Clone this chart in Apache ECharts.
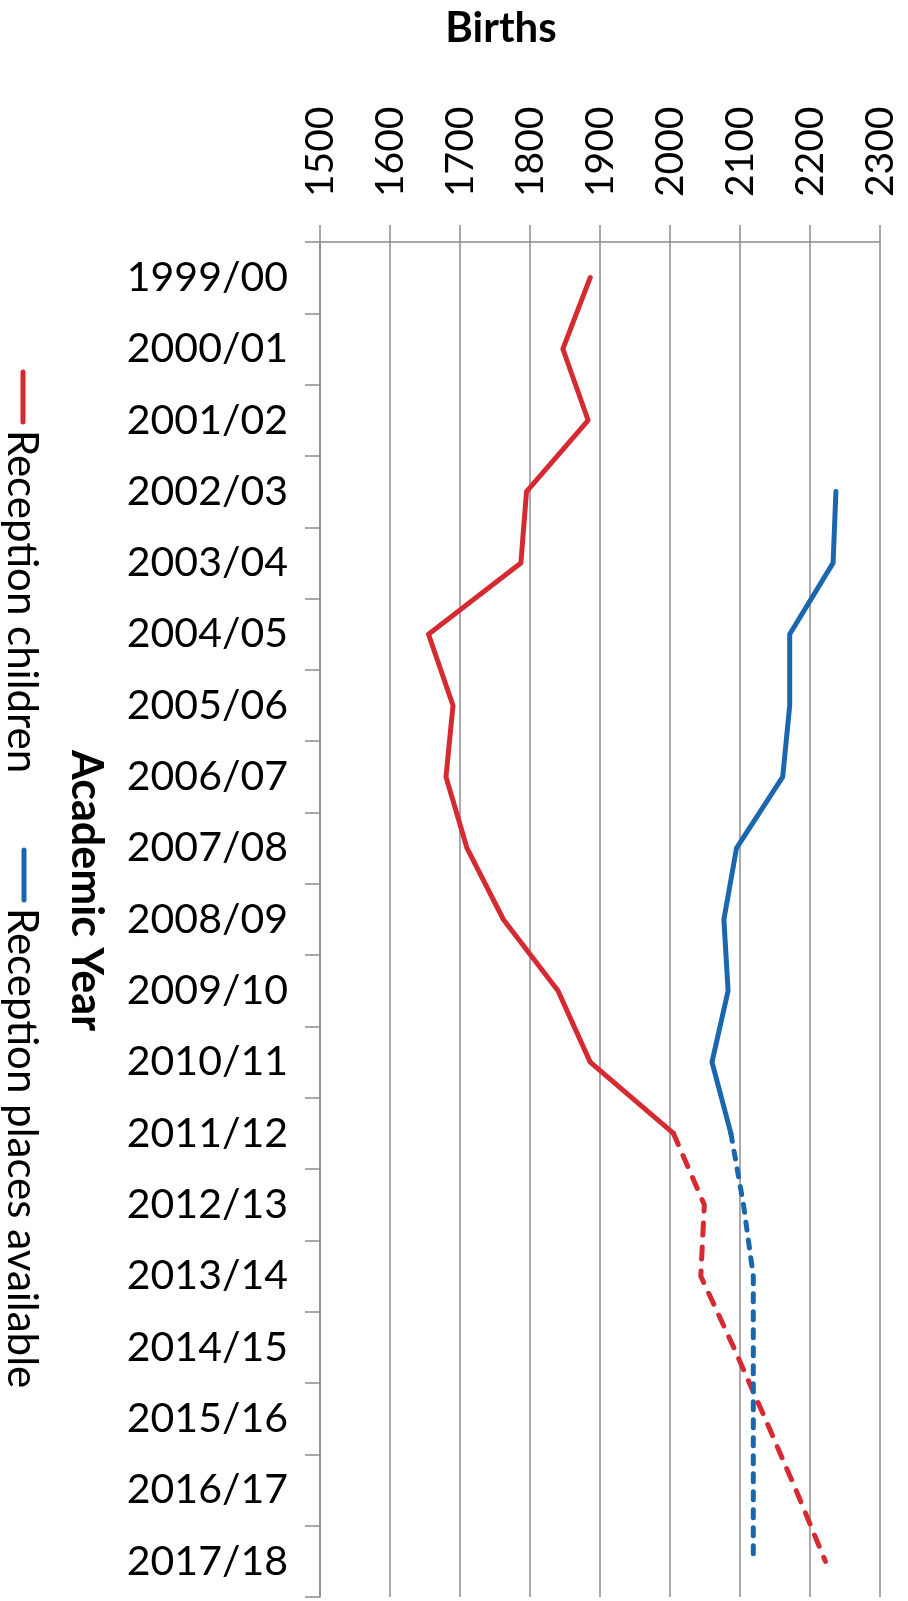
<!DOCTYPE html>
<html>
<head>
<meta charset="utf-8">
<script src="https://cdn.jsdelivr.net/npm/echarts@6/dist/echarts.min.js"></script>
<style>
  html, body { margin: 0; padding: 0; background: #fff; }
  #chart { width: 908px; height: 1601px; }
</style>
</head>
<body>
<div id="chart"></div>
<script>
const categories = ['1999/00','2000/01','2001/02','2002/03','2003/04','2004/05','2005/06','2006/07','2007/08','2008/09','2009/10','2010/11','2011/12','2012/13','2013/14','2014/15','2015/16','2016/17','2017/18'];
const childrenActual = [1886, 1847, 1883, 1795, 1787, 1655, 1690, 1680, 1710, 1762, 1840, 1886, 2005, null, null, null, null, null, null];
const childrenForecast = [null, null, null, null, null, null, null, null, null, null, null, null, 2005, 2049, 2044, 2091, 2136, 2180, 2222];
const placesActual = [null, null, null, 2237, 2233, 2171, 2171, 2161, 2095, 2077, 2083, 2060, 2087, null, null, null, null, null, null];
const placesForecast = [null, null, null, null, null, null, null, null, null, null, null, null, 2087, 2105, 2119, 2119, 2119, 2119, 2119];
const valueTicks = [1500, 1600, 1700, 1800, 1900, 2000, 2100, 2200, 2300];
const seriesNames = ['Reception children', 'Reception places available'];
const axisNames = { value: 'Births', category: 'Academic Year' };

const RED = '#d62a32';
const BLUE = '#1a67b0';
const GRID = '#8c8c8c';
const FONT = 'Lato';

const chart = echarts.init(document.getElementById('chart'));
chart.setOption({
  animation: false,
  backgroundColor: '#ffffff',
  grid: { left: 320, right: 28, top: 242, bottom: 4, containLabel: false },
  xAxis: {
    type: 'value',
    position: 'top',
    min: valueTicks[0],
    max: valueTicks[valueTicks.length - 1],
    interval: 100,
    axisLine: { show: true, lineStyle: { color: GRID, width: 1.5 } },
    axisTick: { show: true, length: 17, lineStyle: { color: GRID, width: 1.5 } },
    splitLine: { show: true, lineStyle: { color: GRID, width: 1.5 } },
    axisLabel: { rotate: -90, margin: 45, fontSize: 39, fontFamily: FONT, color: '#000',
      formatter: function (v) { return String(v); } }
  },
  yAxis: {
    type: 'category',
    inverse: true,
    data: categories,
    boundaryGap: true,
    axisLine: { show: true, lineStyle: { color: GRID, width: 1.5 } },
    axisTick: { show: true, length: 15, lineStyle: { color: GRID, width: 1.5 } },
    splitLine: { show: false },
    axisLabel: { margin: 32, fontSize: 41, fontFamily: FONT, color: '#000', interval: 0 }
  },
  series: [
    { name: seriesNames[0], type: 'line', data: childrenActual, symbol: 'none',
      lineStyle: { color: RED, width: 5, join: 'round', cap: 'round' } },
    { name: seriesNames[0] + ' forecast', type: 'line', data: childrenForecast, symbol: 'none',
      lineStyle: { color: RED, width: 5, type: [12, 12], cap: 'round', join: 'round' } },
    { name: seriesNames[1], type: 'line', data: placesActual, symbol: 'none',
      lineStyle: { color: BLUE, width: 5, join: 'round', cap: 'round' } },
    { name: seriesNames[1] + ' forecast', type: 'line', data: placesForecast, symbol: 'none',
      lineStyle: { color: BLUE, width: 5, type: [8, 10], cap: 'round', join: 'round' } }
  ],
  graphic: [
    { type: 'text', x: 501, y: 28,
      style: { text: axisNames.value, font: 'bold 42px ' + FONT, fill: '#000', textAlign: 'center', textVerticalAlign: 'middle' } },
    { type: 'text', x: 86, y: 750, rotation: -Math.PI / 2,
      style: { text: axisNames.category, font: 'bold 43px ' + FONT, fill: '#000', textAlign: 'left', textVerticalAlign: 'middle' } },
    { type: 'line', shape: { x1: 23, y1: 372, x2: 23, y2: 422 }, style: { stroke: RED, lineWidth: 5, lineCap: 'round' } },
    { type: 'text', x: 22, y: 430, rotation: -Math.PI / 2,
      style: { text: seriesNames[0], font: '42px ' + FONT, fill: '#000', textAlign: 'left', textVerticalAlign: 'middle' } },
    { type: 'line', shape: { x1: 24, y1: 850, x2: 24, y2: 900 }, style: { stroke: BLUE, lineWidth: 5, lineCap: 'round' } },
    { type: 'text', x: 22, y: 908, rotation: -Math.PI / 2,
      style: { text: seriesNames[1], font: '42px ' + FONT, fill: '#000', textAlign: 'left', textVerticalAlign: 'middle' } }
  ]
});
</script>
</body>
</html>
